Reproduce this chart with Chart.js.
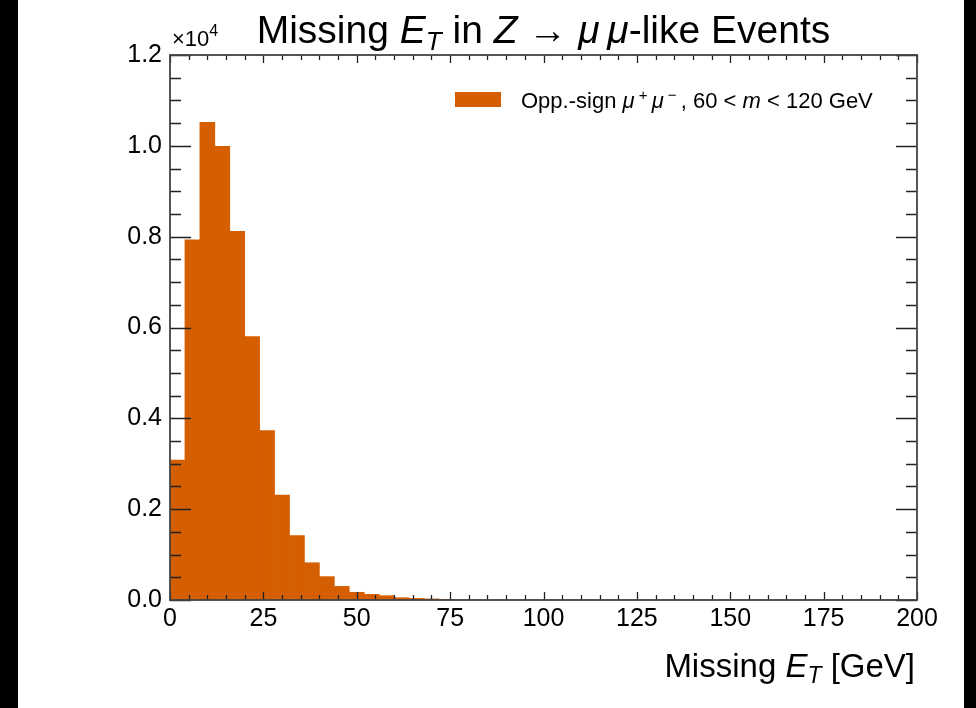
<!DOCTYPE html>
<html>
<head>
<meta charset="utf-8">
<style>
  html, body { margin: 0; padding: 0; background: #000; }
  #wrap { position: absolute; left: 18px; top: 0; width: 946px; height: 708px; background: #fff; }
</style>
</head>
<body>
<div id="wrap"><canvas id="metChart"></canvas></div>
<script src="https://cdn.jsdelivr.net/npm/chart.js"></script>
<script>
  // histogram bins (GeV) and counts
  const binStart = 0;
  const binWidth = 4;
  const counts = [
    3080, 7930, 10520, 9990, 8120, 5800, 3730, 2310, 1420, 820,
    515, 300, 170, 125, 95, 50, 35, 25, 15, 0,
    0, 0, 0, 0, 0, 0, 0, 0, 0, 0,
    0, 0, 0, 0, 0, 0, 0, 0, 0, 0,
    0, 0, 0, 0, 0, 0, 0, 0, 0, 0
  ];
  const xTicks = [0, 25, 50, 75, 100, 125, 150, 175, 200];
  const yTicks = [0, 2000, 4000, 6000, 8000, 10000, 12000];
  const barColor = "#d55e00";
  const FONT = "'Liberation Sans', Arial, sans-serif";

  const points = counts.map((c, i) => ({ x: binStart + binWidth * (i + 0.5), y: c }));

  // draw text made of several runs (normal / italic / sub / sup)
  function drawRich(ctx, parts, x, y, align) {
    let total = 0;
    parts.forEach(p => {
      ctx.font = (p.italic ? "italic " : "") + p.size + "px " + FONT;
      p.w = ctx.measureText(p.t).width;
      total += p.w;
    });
    let cx = align === "center" ? x - total / 2 : align === "right" ? x - total : x;
    ctx.textAlign = "left";
    ctx.textBaseline = "alphabetic";
    parts.forEach(p => {
      ctx.font = (p.italic ? "italic " : "") + p.size + "px " + FONT;
      ctx.fillText(p.t, cx, y + (p.dy || 0));
      cx += p.w;
    });
  }

  const decor = {
    id: "decor",
    afterDatasetsDraw(chart) {
      const ctx = chart.ctx;
      const a = chart.chartArea;
      const xs = chart.scales.x, ys = chart.scales.y;
      ctx.save();
      ctx.strokeStyle = "#222";
      ctx.lineWidth = 1.3;
      // x ticks, inside, bottom and top
      for (let v = 0; v <= 200; v += 5) {
        const px = Math.round(xs.getPixelForValue(v)) + 0.5;
        const len = xTicks.includes(v) ? 8 : 5;
        ctx.beginPath();
        ctx.moveTo(px, a.bottom); ctx.lineTo(px, a.bottom - len);
        ctx.moveTo(px, a.top); ctx.lineTo(px, a.top + len);
        ctx.stroke();
      }
      // y ticks, inside, left and right
      for (let v = 0; v <= 12000; v += 500) {
        const py = Math.round(ys.getPixelForValue(v)) + 0.5;
        const len = yTicks.includes(v) ? 21 : 11;
        ctx.beginPath();
        ctx.moveTo(a.left, py); ctx.lineTo(a.left + len, py);
        ctx.moveTo(a.right, py); ctx.lineTo(a.right - len, py);
        ctx.stroke();
      }
      // frame
      ctx.strokeStyle = "#444";
      ctx.lineWidth = 1.8;
      ctx.strokeRect(a.left, a.top, a.right - a.left, a.bottom - a.top);

      ctx.fillStyle = "#000";
      // title
      drawRich(ctx, [
        { t: "Missing ", size: 39 },
        { t: "E", size: 39, italic: true },
        { t: "T", size: 26, italic: true, dy: 7 },
        { t: " in ", size: 39 },
        { t: "Z", size: 39, italic: true },
        { t: " \u2192 ", size: 39 },
        { t: "\u03bc\u2009\u03bc", size: 39, italic: true },
        { t: "-like Events", size: 39 }
      ], (a.left + a.right) / 2, 43, "center");

      // multiplier
      drawRich(ctx, [
        { t: "\u00d710", size: 22 },
        { t: "4", size: 16, dy: -10 }
      ], a.left + 2, 46, "left");

      // x axis label
      drawRich(ctx, [
        { t: "Missing ", size: 33 },
        { t: "E", size: 33, italic: true },
        { t: "T", size: 23, italic: true, dy: 6 },
        { t: " [GeV]", size: 33 }
      ], a.right - 2, 677, "right");

      // legend
      ctx.fillStyle = barColor;
      ctx.fillRect(437, 92, 46, 15);
      ctx.fillStyle = "#000";
      drawRich(ctx, [
        { t: "Opp.-sign ", size: 22 },
        { t: "\u03bc", size: 22, italic: true },
        { t: " + ", size: 15, dy: -8 },
        { t: "\u03bc", size: 22, italic: true },
        { t: " \u2212 ", size: 15, dy: -8 },
        { t: ", 60 < ", size: 22 },
        { t: "m", size: 22, italic: true },
        { t: " < 120 GeV", size: 22 }
      ], 503, 108, "left");
      ctx.restore();
    }
  };

  const ctx = document.getElementById("metChart").getContext("2d");
  new Chart(ctx, {
    type: "bar",
    data: {
      datasets: [{
        label: "Opp.-sign \u03bc+\u03bc-, 60 < m < 120 GeV",
        data: points,
        backgroundColor: barColor,
        borderWidth: 0,
        barPercentage: 1.0,
        categoryPercentage: 1.0
      }]
    },
    options: {
      responsive: true,
      maintainAspectRatio: false,
      animation: false,
      layout: { padding: { left: 0, top: 55, right: 47, bottom: 0 } },
      plugins: { legend: { display: false }, tooltip: { enabled: false } },
      scales: {
        x: {
          type: "linear",
          min: 0,
          max: 200,
          offset: false,
          grid: { display: false, drawTicks: false },
          border: { display: false },
          afterBuildTicks: s => { s.ticks = xTicks.map(v => ({ value: v })); },
          afterFit: s => { s.height = 108; },
          ticks: {
            padding: 4,
            color: "#000",
            font: { family: FONT, size: 25 },
            maxRotation: 0
          }
        },
        y: {
          min: 0,
          max: 12000,
          grid: { display: false, drawTicks: false },
          border: { display: false },
          afterBuildTicks: s => { s.ticks = yTicks.map(v => ({ value: v })); },
          afterFit: s => { s.width = 152; },
          ticks: {
            padding: 8,
            color: "#000",
            font: { family: FONT, size: 25 },
            callback: v => (v / 10000).toFixed(1)
          }
        }
      }
    },
    plugins: [decor]
  });
</script>
</body>
</html>
